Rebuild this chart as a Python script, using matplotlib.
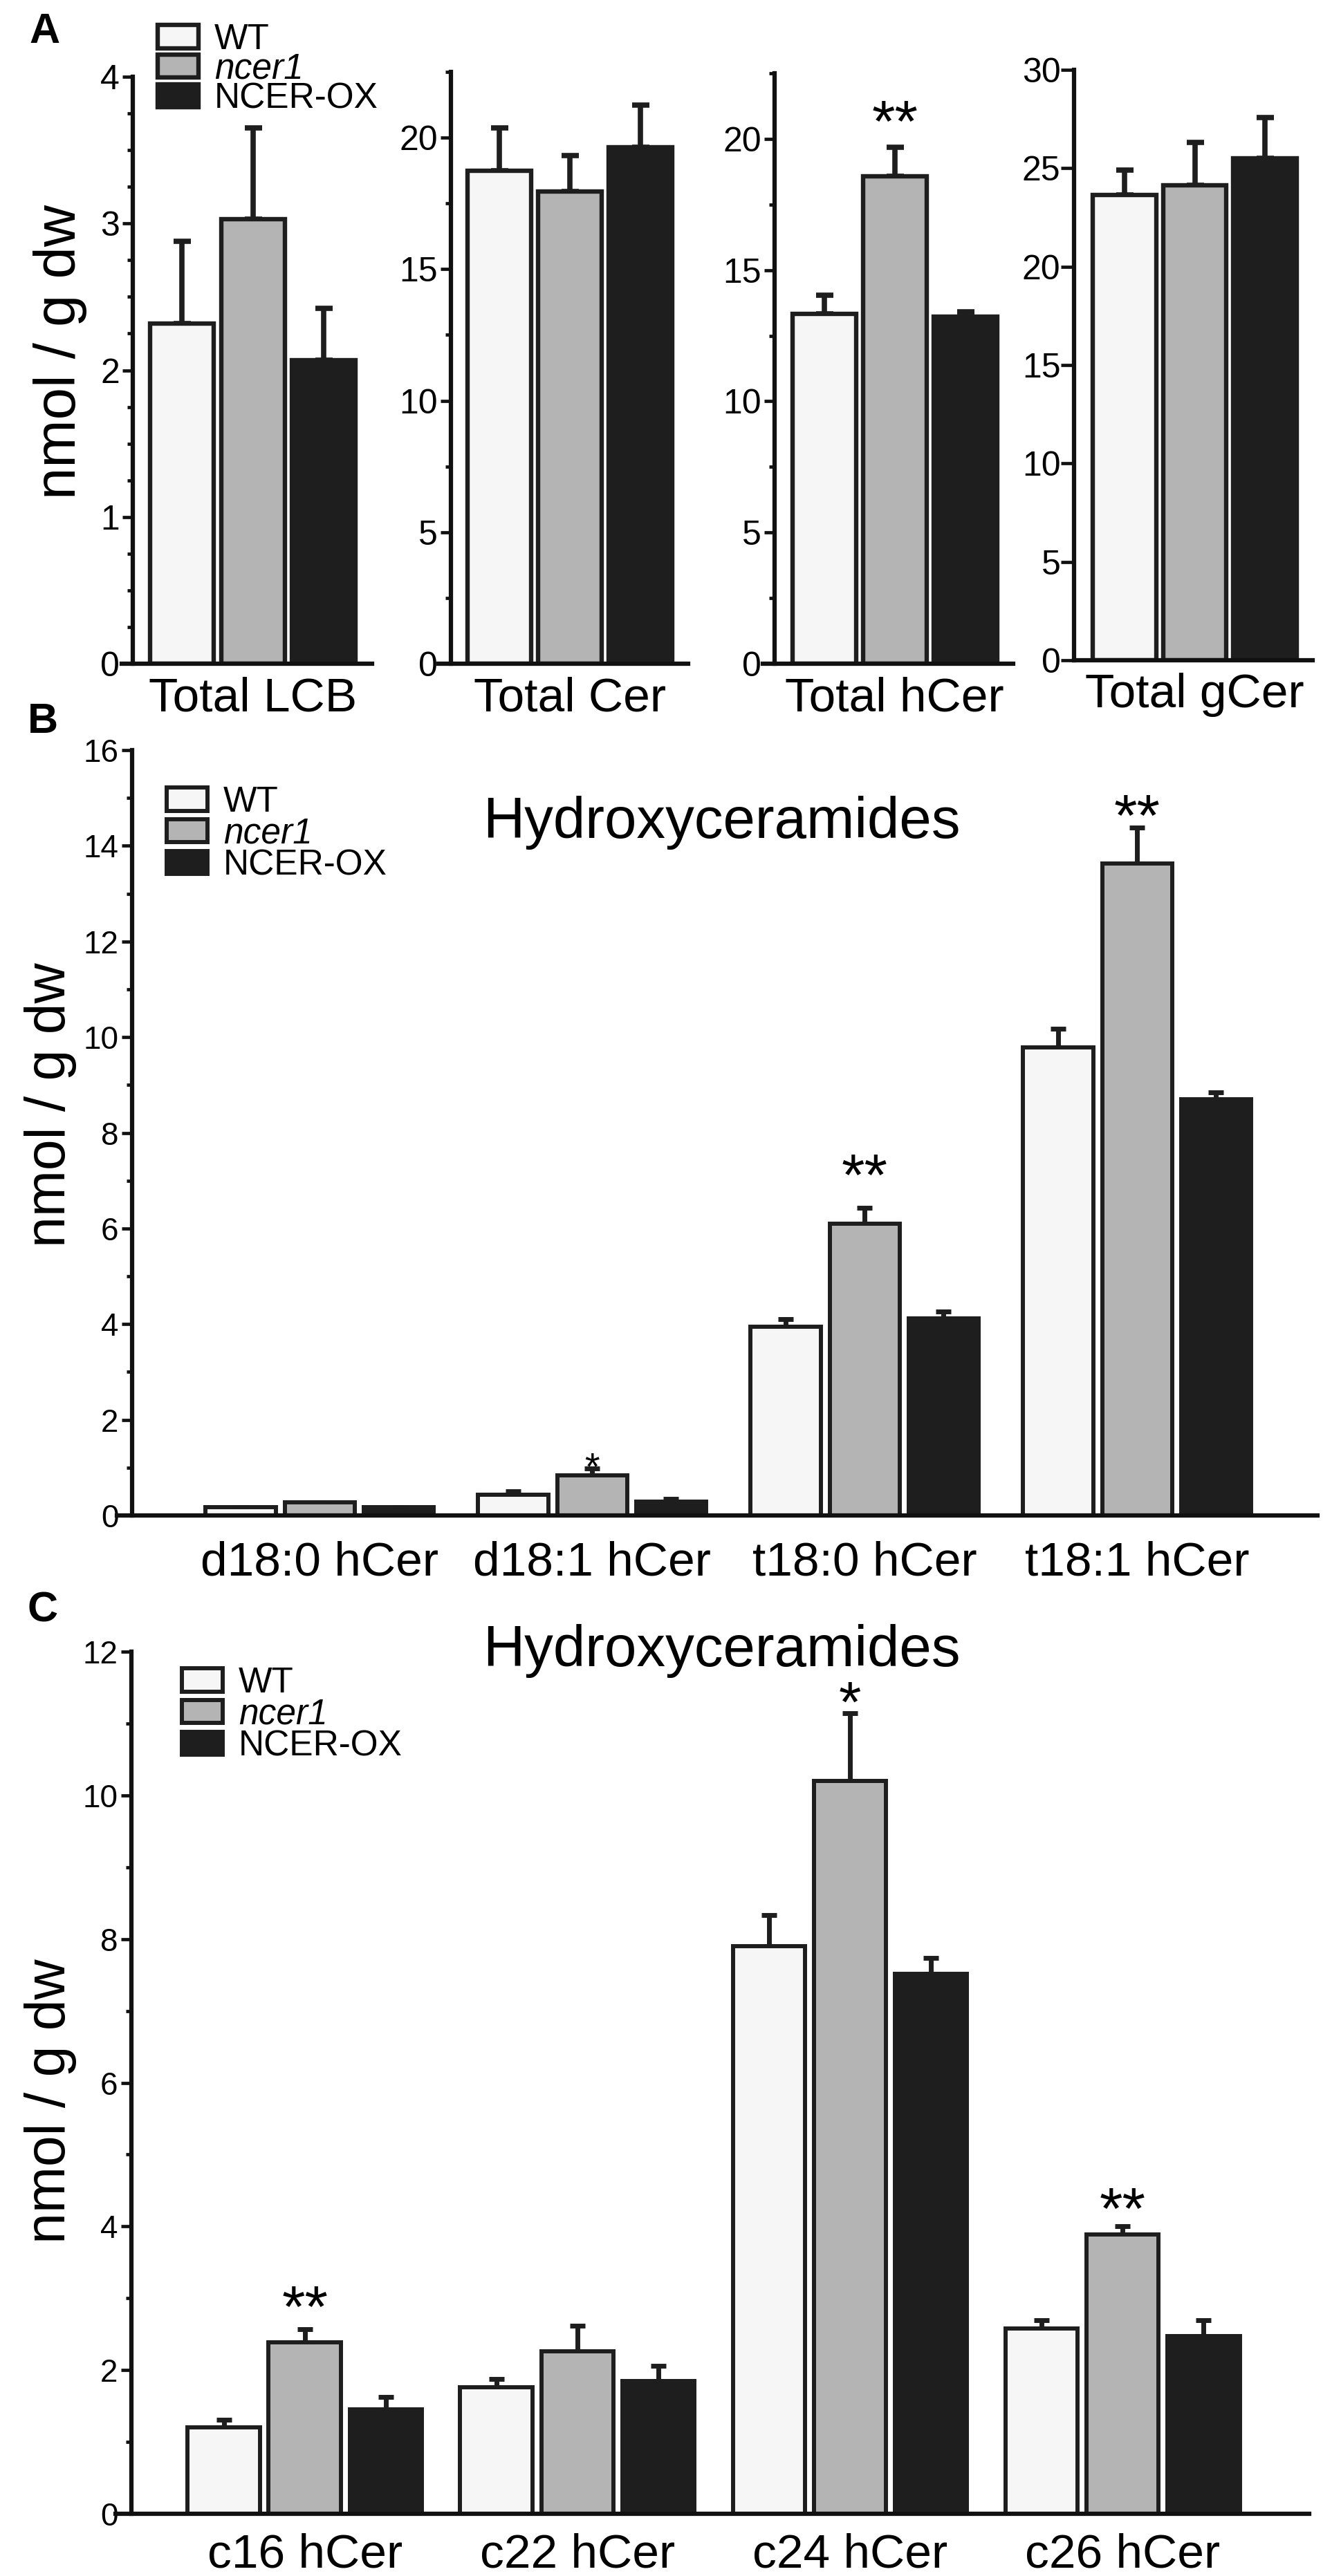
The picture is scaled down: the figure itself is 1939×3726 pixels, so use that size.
"""Sphingolipid content of WT, ncer1 and NCER-OX plants (three panel bar figure)."""

import matplotlib.pyplot as plt
from matplotlib.ticker import MultipleLocator
import numpy as np

# ---- data -------------------------------------------------------------
genotypes = ["WT", "ncer1", "NCER-OX"]

a_groups = ["Total LCB", "Total Cer", "Total hCer", "Total gCer"]
a_wt = [2.32, 18.73, 13.33, 23.64]
a_wt_err = [0.56, 1.64, 0.72, 1.26]
a_ncer = [3.03, 17.94, 18.58, 24.13]
a_ncer_err = [0.62, 1.38, 1.09, 2.17]
a_ox = [2.07, 19.63, 13.23, 25.49]
a_ox_err = [0.35, 1.60, 0.17, 2.09]
a_sig = ["", "", "**", ""]
a_sig_y = [0, 0, 20.97, 0]

b_groups = ["d18:0 hCer", "d18:1 hCer", "t18:0 hCer", "t18:1 hCer"]
b_wt = [0.18, 0.43, 3.94, 9.79]
b_wt_err = [0.0, 0.08, 0.16, 0.39]
b_ncer = [0.27, 0.84, 6.10, 13.63]
b_ncer_err = [0.0, 0.14, 0.33, 0.75]
b_ox = [0.18, 0.29, 4.12, 8.70]
b_ox_err = [0.0, 0.06, 0.15, 0.15]
b_sig = ["", "*", "**", "**"]
b_sig_y = [0, 1.14, 7.27, 14.80]

c_groups = ["c16 hCer", "c22 hCer", "c24 hCer", "c26 hCer"]
c_wt = [1.20, 1.76, 7.90, 2.58]
c_wt_err = [0.11, 0.12, 0.43, 0.11]
c_ncer = [2.39, 2.26, 10.20, 3.89]
c_ncer_err = [0.18, 0.36, 0.94, 0.11]
c_ox = [1.45, 1.85, 7.52, 2.47]
c_ox_err = [0.18, 0.21, 0.22, 0.22]
c_sig = ["**", "", "*", "**"]
c_sig_y = [2.99, 0, 11.40, 4.35]

# ---- style ------------------------------------------------------------
W, H, DPI = 1940, 3726, 100
FILLS = ["#f6f6f6", "#b4b4b4", "#1e1e1e"]
EDGE = "#1e1e1e"
INK = "#111111"
plt.rcParams["font.family"] = ["Liberation Sans", "DejaVu Sans"]


def add_axes_px(fig, left, right, top, bottom):
    return fig.add_axes([left / W, 1 - bottom / H, (right - left) / W, (bottom - top) / H])


def style_axis(ax, spine_x, minor, tick_size, lw=4.5, length=11, pad=3):
    for side in ("top", "right"):
        ax.spines[side].set_visible(False)
    ax.spines["left"].set_position(("data", spine_x))
    for side in ("left", "bottom"):
        ax.spines[side].set_linewidth(lw)
        ax.spines[side].set_color(INK)
        ax.spines[side].set_zorder(5)
        ax.spines[side].set_capstyle("projecting")
    ax.set_xticks([])
    if minor:
        ax.yaxis.set_minor_locator(MultipleLocator(minor))
    ax.tick_params(axis="y", which="major", direction="out", length=length, width=3.4,
                   labelsize=tick_size, pad=pad, color=INK)
    ax.tick_params(axis="y", which="minor", direction="out", length=6, width=3.4, color=INK)


def draw_bars(ax, x, step, series, errs, width, lw, capsize, elw):
    handles = []
    for k, (vals, err) in enumerate(zip(series, errs)):
        pos = x + (k - 1) * step
        h = ax.bar(pos, vals, width, color=FILLS[k], edgecolor=EDGE, linewidth=lw, zorder=3)
        ax.errorbar(pos, vals, yerr=[np.zeros(len(vals)), err], fmt="none", ecolor=EDGE,
                    elinewidth=elw, capsize=capsize, capthick=elw, zorder=2)
        handles.append(h)
    return handles


def put_stars(ax, x, marks, heights, sizes):
    # heights give the vertical centre of the asterisks in data units
    for xi, s, yc, fs in zip(x, marks, heights, sizes):
        if s:
            ax.annotate(s, (xi, yc), xytext=(0, -0.47 * fs), textcoords="offset points",
                        ha="center", va="baseline", fontsize=fs)


def add_legend(ax, handles, left_px, top_px, spacing):
    leg = ax.legend(handles, genotypes, loc="upper left",
                    bbox_to_anchor=(left_px / W, 1 - top_px / H),
                    bbox_transform=fig.transFigure, frameon=False, fontsize=37,
                    handlelength=1.15, handleheight=0.62, handletextpad=0.45,
                    labelspacing=spacing, borderpad=0, borderaxespad=0)
    leg.get_texts()[1].set_style("italic")


def ylabel(ax, x_px, y_px, box, size):
    l, r, t, b = box
    ax.set_ylabel("nmol / g dw", fontsize=size)
    ax.yaxis.label.set_verticalalignment("center")
    ax.yaxis.set_label_coords((x_px - l) / (r - l), (b - y_px) / (b - t))


fig = plt.figure(figsize=(W / DPI, H / DPI), dpi=DPI)

# ---- panel A ----------------------------------------------------------
a_tops = [4, 22.5, 22.5, 30]
a_minor = [0.25, 2.5, 2.5, None]
a_major = [1, 5, 5, 5]
a_boxes = [(176, 538, 111, 960), (634, 995, 104, 960), (1103, 1465, 106, 960),
           (1553, 1898, 101, 955)]
a_spine = [-0.69, -0.68, -0.70, -0.72]
a_left = [-0.85, -0.86, -0.87, -0.72]
for i, grp in enumerate(a_groups):
    box = a_boxes[i]
    ax = add_axes_px(fig, *box)
    ax.set_xlim(a_left[i], 2.68)
    ax.set_ylim(0, a_tops[i])
    ax.yaxis.set_major_locator(MultipleLocator(a_major[i]))
    if i == 3:
        style_axis(ax, a_spine[i], a_minor[i], 36, length=14, pad=0)
    else:
        style_axis(ax, a_spine[i], a_minor[i], 36)
    x = np.array([1.0])
    series = [[a_wt[i]], [a_ncer[i]], [a_ox[i]]]
    errs = [[a_wt_err[i]], [a_ncer_err[i]], [a_ox_err[i]]]
    hnd = draw_bars(ax, x, 1.0, series, errs, 0.9, 4.6, 9, 5.5)
    ax.annotate(grp, (1.0, 0), xycoords=("data", "axes fraction"), xytext=(0, -13),
                textcoords="offset points", ha="center", va="top", fontsize=50)
    put_stars(ax, x, [a_sig[i]], [a_sig_y[i]], [62])
    if i == 0:
        ylabel(ax, 87, 509, box, 60)
        add_legend(ax, hnd, 228, 33, -0.12)

fig.text(65 / W, 1 - 46 / H, "A", fontsize=44, fontweight="bold", ha="center", va="center")


# ---- panels B and C ---------------------------------------------------
def grouped_panel(box, top, groups, series, errs, sig, sig_y, sig_size, xlim, spine_x,
                  step, width, leg_px, title_y, lab_y, label_pad):
    ax = add_axes_px(fig, *box)
    x = np.arange(len(groups), dtype=float)
    ax.set_xlim(*xlim)
    ax.set_ylim(0, top)
    ax.yaxis.set_major_locator(MultipleLocator(2))
    style_axis(ax, spine_x, 1, 33, lw=4.5)
    hnd = draw_bars(ax, x, step, series, errs, width, 4.3, 8, 5.0)
    for xi, g in zip(x, groups):
        ax.annotate(g, (xi, 0), xycoords=("data", "axes fraction"), xytext=(0, -label_pad),
                    textcoords="offset points", ha="center", va="top", fontsize=50)
    put_stars(ax, x, sig, sig_y, sig_size)
    ylabel(ax, 73, lab_y, box, 58)
    fig.text(1043 / W, 1 - title_y / H, "Hydroxyceramides", ha="center", va="center",
             fontsize=60)
    add_legend(ax, hnd, leg_px[0], leg_px[1], -0.06)
    return ax


grouped_panel((169, 1905, 1085, 2192), 16, b_groups, [b_wt, b_ncer, b_ox],
              [b_wt_err, b_ncer_err, b_ox_err], b_sig, b_sig_y, [0, 40, 62, 62],
              (-0.744, 3.662), -0.688, 0.29, 0.257, (241, 1136), 1190, 1598, 26)
fig.text(62 / W, 1 - 1045 / H, "B", fontsize=44, fontweight="bold", ha="center", va="center")

grouped_panel((167, 1893, 2389, 3636), 12, c_groups, [c_wt, c_ncer, c_ox],
              [c_wt_err, c_ncer_err, c_ox_err], c_sig, c_sig_y, [62, 0, 60, 62],
              (-0.695, 3.685), -0.637, 0.297, 0.266, (263, 2410), 2388, 3039, 20)
fig.text(62 / W, 1 - 2330 / H, "C", fontsize=44, fontweight="bold", ha="center", va="center")

fig.savefig("out.png", dpi=DPI, facecolor="white")
